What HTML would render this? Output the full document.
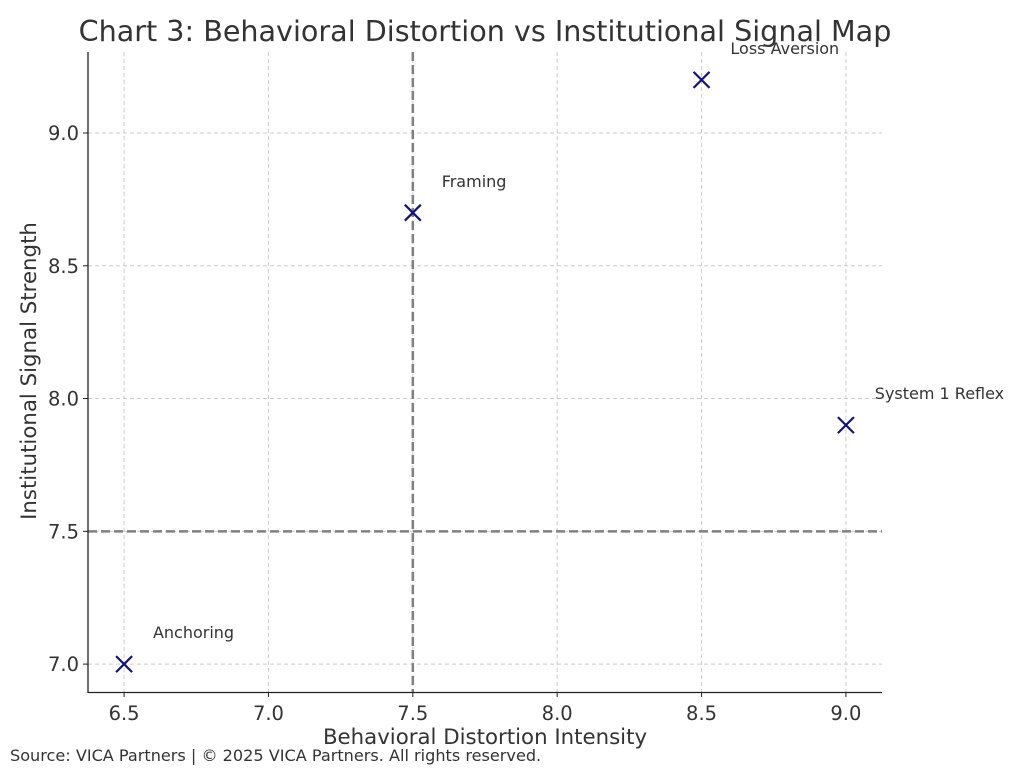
<!DOCTYPE html>
<html><head><meta charset="utf-8"><style>
body{margin:0;background:#fff;font-family:"Liberation Sans","DejaVu Sans",sans-serif;}
</style></head><body>
<svg id="chart" width="1024" height="768" xmlns="http://www.w3.org/2000/svg" font-family="DejaVu Sans, Liberation Sans, sans-serif">
<text x="485" y="41" text-anchor="middle" font-size="28.6" fill="#333">Chart 3: Behavioral Distortion vs Institutional Signal Map</text>
<g id="grid"></g><g id="refs"></g><g id="ticks"></g><g id="marks"></g>
<line x1="88" y1="52" x2="88" y2="693" stroke="#222" stroke-width="1.3"/>
<line x1="88" y1="692.5" x2="882" y2="692.5" stroke="#222" stroke-width="1.3"/>
<text x="485" y="744" text-anchor="middle" font-size="21.3" fill="#333">Behavioral Distortion Intensity</text>
<text transform="translate(36,371) rotate(-90)" text-anchor="middle" font-size="21.3" fill="#333">Institutional Signal Strength</text>
<text x="10" y="761" font-size="16.1" fill="#333">Source: VICA Partners | © 2025 VICA Partners. All rights reserved.</text>
</svg>
<script>
const labels=["Anchoring","Framing","Loss Aversion","System 1 Reflex"];
const xVals=[6.5,7.5,8.5,9.0];
const yVals=[7.0,8.7,9.2,7.9];
const xTicks=[6.5,7.0,7.5,8.0,8.5,9.0];
const yTicks=[7.0,7.5,8.0,8.5,9.0];
const refX=7.5, refY=7.5;
const NS="http://www.w3.org/2000/svg";
const X0=88,X1=882,Y0=692,Y1=52,xmin=6.375,xmax=9.125,ymin=6.895,ymax=9.305;
const sx=v=>X0+(v-xmin)/(xmax-xmin)*(X1-X0);
const sy=v=>Y0-(v-ymin)/(ymax-ymin)*(Y0-Y1);
function mk(tag,attrs,parent){const e=document.createElementNS(NS,tag);for(const k in attrs)e.setAttribute(k,attrs[k]);document.getElementById(parent).appendChild(e);return e;}
xTicks.forEach(t=>{
 const g=mk('line',{x1:sx(t),x2:sx(t),y1:Y1,y2:Y0,stroke:'#ccc','stroke-dasharray':'4,3','stroke-width':1},'grid');
 
 
 const tk=mk('line',{x1:sx(t),x2:sx(t),y1:Y0,y2:Y0+5,stroke:'#222'},'ticks');
 
 
 const l=mk('text',{x:sx(t),y:Y0+28,'text-anchor':'middle','font-size':19.5,fill:'#333'},'ticks');
 
 
 l.textContent=t.toFixed(1);
});
yTicks.forEach(t=>{
 const g=mk('line',{x1:X0,x2:X1,y1:sy(t),y2:sy(t),stroke:'#ccc','stroke-dasharray':'4,3','stroke-width':1},'grid');
 
 
 const tk=mk('line',{x1:X0-5,x2:X0,y1:sy(t),y2:sy(t),stroke:'#222'},'ticks');
 
 
 const l=mk('text',{x:X0-9,y:sy(t)+7,'text-anchor':'end','font-size':19.5,fill:'#333'},'ticks');
 
 
 l.textContent=t.toFixed(1);
});
const rx=mk('line',{x1:sx(refX),x2:sx(refX),y1:Y1,y2:Y0,stroke:'#808080','stroke-width':2.5,'stroke-dasharray':'9,4'},'refs');


const ry=mk('line',{x1:X0,x2:X1,y1:sy(refY),y2:sy(refY),stroke:'#808080','stroke-width':2.5,'stroke-dasharray':'9,4'},'refs');


xVals.forEach((v,i)=>{
 const cx=sx(v),cy=sy(yVals[i]),r=8;
 const p=mk('path',{d:`M${cx-r},${cy-r}L${cx+r},${cy+r}M${cx-r},${cy+r}L${cx+r},${cy-r}`,stroke:'#12127a','stroke-width':2.2,fill:'none'},'marks');
 
 
 const t=mk('text',{x:sx(v+0.1),y:sy(yVals[i]+0.12)+6,'font-size':16,fill:'#333'},'marks');
 
 
 t.textContent=labels[i];
});
</script>
</body></html>
